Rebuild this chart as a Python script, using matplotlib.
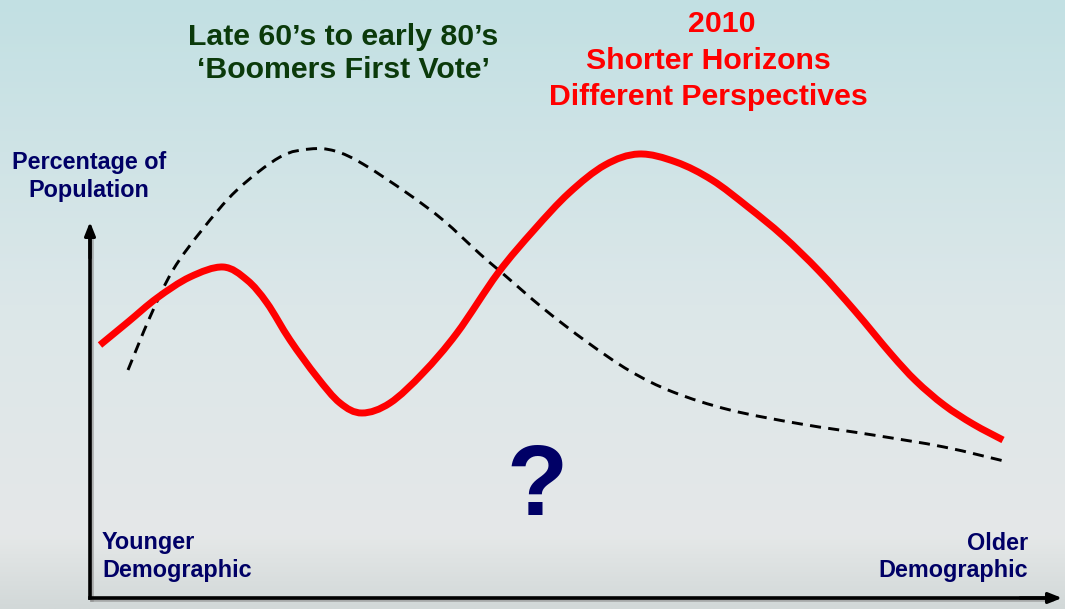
import numpy as np
import matplotlib
matplotlib.use("Agg")
import matplotlib.pyplot as plt
import matplotlib.patheffects as pe
from matplotlib.path import Path
from matplotlib.patches import PathPatch

plt.rcParams['font.family'] = ['Liberation Sans', 'DejaVu Sans']

# position along the age axis (0 = young) and share of population
red_x = [1.0, 3.8, 6.7, 10.0, 13.3, 15.7, 17.7, 20.0, 22.7, 25.0, 27.2, 30.0,
         33.3, 36.7, 40.8, 44.4, 47.9, 51.5, 54.9, 58.6, 62.2, 65.8, 69.3,
         72.9, 76.5, 80.1, 82.6, 85.4, 88.3, 91.3]
red_y = [25.3, 27.6, 30.0, 32.1, 33.1, 31.8, 29.5, 25.8, 22.1, 19.5, 18.5, 19.5,
         22.5, 26.5, 32.5, 36.8, 40.5, 43.3, 44.4, 43.6, 41.8, 39.1, 36.2,
         32.7, 28.7, 24.4, 21.7, 19.3, 17.4, 15.8]

boom_x = [3.8, 6.0, 8.3, 11.2, 14.7, 19.0, 22.0, 24.5, 27.3, 31.7, 35.3, 39.0,
          41.1, 45.4, 49.7, 54.0, 58.3, 64.0, 71.1, 78.3, 85.4, 91.8]
boom_y = [22.8, 28.1, 32.8, 36.8, 40.8, 44.1, 44.9, 44.7, 43.4, 40.5, 37.8, 34.4,
          32.6, 28.9, 25.6, 22.7, 20.6, 18.8, 17.4, 16.3, 15.1, 13.6]

navy = '#000066'
green = '#0b3a0b'


def smooth_path(xs, ys):
    # Catmull-Rom through the points, drawn as cubic Bezier segments
    p = np.column_stack([xs, ys])
    verts = [p[0]]
    codes = [Path.MOVETO]
    for i in range(len(p) - 1):
        p0 = p[i - 1] if i > 0 else p[i]
        p3 = p[i + 2] if i + 2 < len(p) else p[i + 1]
        c1 = p[i] + (p[i + 1] - p0) / 6
        c2 = p[i + 1] - (p3 - p[i]) / 6
        verts += [c1, c2, p[i + 1]]
        codes += [Path.CURVE4] * 3
    return Path(verts, codes)


fig = plt.figure(figsize=(10.65, 6.09), dpi=100)
ax = fig.add_axes([0, 0, 1, 1])
ax.set_xlim(-9.0, 97.5)
ax.set_ylim(-1.1, 59.8)
ax.axis('off')

# background gradient (teal at the top, grey at the bottom)
stops = [0.0, 0.5, 0.88, 1.0]
cols = np.array([[194, 224, 227], [220, 231, 233], [229, 232, 232], [210, 216, 216]]) / 255
t = np.linspace(0, 1, 400)
grad = np.column_stack([np.interp(t, stops, cols[:, k]) for k in range(3)])
ax.imshow(grad[:, None, :].repeat(2, axis=1), extent=[-9.0, 97.5, -1.1, 59.8],
          aspect='auto', origin='upper', zorder=0)

# axes with a soft shadow
shadow = [pe.SimpleLineShadow(offset=(1.5, -1.5), shadow_color='#888888', alpha=0.6),
          pe.Normal()]
arrow = dict(arrowstyle='-|>,head_length=0.8,head_width=0.32', lw=2.3, color='black',
             shrinkA=0, shrinkB=0)
ax.annotate('', xy=(0, 37.6), xytext=(0, 34), arrowprops=arrow, zorder=3)
ax.annotate('', xy=(97.2, 0), xytext=(93, 0), arrowprops=arrow, zorder=3)
ax.plot([0, 0], [0, 36], color='black', lw=2.6, solid_capstyle='projecting',
        path_effects=shadow, zorder=2)
ax.plot([0, 96], [0, 0], color='black', lw=2.6, solid_capstyle='projecting',
        path_effects=shadow, zorder=2)

ax.add_patch(PathPatch(smooth_path(boom_x, boom_y), fill=False, ec='black', lw=2.1,
                       linestyle=(0, (3.8, 2.5)), zorder=4))
ax.add_patch(PathPatch(smooth_path(red_x, red_y), fill=False, ec='#ff0000', lw=5.0,
                       joinstyle='round', capstyle='butt', zorder=5))

fs = 21.8
ax.text(25.3, 56.1, 'Late 60’s to early 80’s', ha='center', va='center',
        fontsize=fs, fontweight='bold', color=green)
ax.text(25.3, 52.8, '‘Boomers First Vote’', ha='center', va='center',
        fontsize=fs, fontweight='bold', color=green)
ax.text(63.2, 57.4, '2010', ha='center', va='center',
        fontsize=fs, fontweight='bold', color='#ff0000')
ax.text(61.8, 53.7, 'Shorter Horizons', ha='center', va='center',
        fontsize=fs, fontweight='bold', color='#ff0000')
ax.text(61.8, 50.1, 'Different Perspectives', ha='center', va='center',
        fontsize=fs, fontweight='bold', color='#ff0000')

ls = 16.8
ax.text(-0.1, 43.6, 'Percentage of', ha='center', va='center',
        fontsize=ls, fontweight='bold', color=navy)
ax.text(-0.1, 40.8, 'Population', ha='center', va='center',
        fontsize=ls, fontweight='bold', color=navy)
ax.text(1.2, 5.5, 'Younger', ha='left', va='center',
        fontsize=ls, fontweight='bold', color=navy)
ax.text(1.2, 2.7, 'Demographic', ha='left', va='center',
        fontsize=ls, fontweight='bold', color=navy)
ax.text(93.8, 5.5, 'Older', ha='right', va='center',
        fontsize=ls, fontweight='bold', color=navy)
ax.text(93.8, 2.7, 'Demographic', ha='right', va='center',
        fontsize=ls, fontweight='bold', color=navy)

ax.text(44.7, 10.9, '?', ha='center', va='center',
        fontsize=72, fontweight='bold', color=navy)

fig.savefig('out.png', dpi=100)
